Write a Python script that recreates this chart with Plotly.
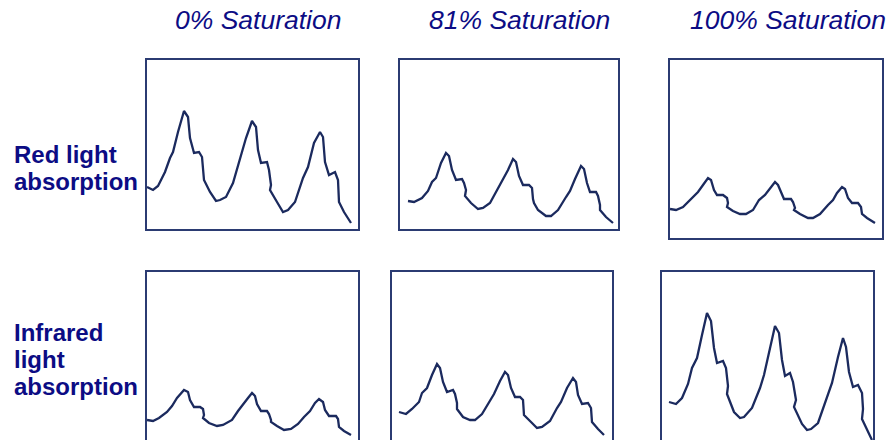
import plotly.graph_objects as go

# ---- data (time units, absorption units) ----
col_titles = ["0% Saturation", "81% Saturation", "100% Saturation"]
row_titles = [["Red light", "absorption"], ["Infrared", "light", "absorption"]]

t_red_0 = [0, 6, 11, 18, 23, 26, 31, 37, 41, 43, 47, 52, 55, 56, 57, 63, 69, 73, 79, 86, 92, 99, 105, 109, 111, 114, 120, 122, 124, 123, 130, 136, 141, 148, 156, 161, 167, 173, 176, 178, 182, 188, 191, 192, 192, 197, 204]
v_red_0 = [53, 50, 54, 68, 82, 88, 108, 129, 123, 102, 87, 88, 83, 67, 60, 48, 39, 40, 43, 57, 78, 102, 119, 113, 90, 77, 78, 70, 55, 50, 38, 28, 30, 38, 62, 73, 97, 108, 103, 78, 65, 68, 60, 45, 38, 28, 17]

t_red_81 = [8, 14, 22, 28, 32, 36, 41, 46, 49, 52, 56, 62, 64, 66, 65, 71, 78, 83, 90, 98, 102, 108, 113, 116, 119, 123, 129, 132, 133, 134, 138, 146, 151, 158, 166, 170, 175, 181, 184, 187, 190, 196, 198, 200, 200, 206, 213]
v_red_81 = [39, 38, 42, 49, 58, 62, 77, 87, 84, 70, 60, 61, 57, 50, 44, 37, 31, 32, 37, 52, 58, 70, 81, 78, 64, 55, 55, 52, 41, 37, 30, 24, 24, 30, 43, 49, 61, 74, 71, 57, 48, 48, 44, 35, 30, 23, 17]

t_red_100 = [0, 6, 13, 22, 28, 33, 38, 41, 44, 47, 53, 57, 58, 57, 63, 70, 76, 83, 89, 95, 100, 105, 108, 111, 114, 121, 123, 125, 124, 130, 138, 143, 150, 158, 163, 167, 172, 175, 178, 182, 188, 191, 192, 192, 197, 205]
v_red_100 = [31, 30, 33, 42, 48, 55, 62, 60, 50, 45, 45, 42, 37, 33, 29, 26, 26, 30, 40, 45, 52, 58, 55, 47, 41, 41, 38, 32, 30, 26, 22, 22, 26, 35, 40, 47, 53, 51, 42, 37, 37, 33, 28, 26, 22, 17]

t_ir_0 = [0, 6, 12, 20, 25, 30, 37, 41, 43, 47, 53, 56, 57, 56, 62, 70, 76, 85, 91, 96, 101, 105, 108, 110, 114, 120, 122, 124, 124, 130, 137, 144, 151, 157, 163, 168, 172, 176, 178, 182, 189, 191, 192, 192, 197, 204]
v_ir_0 = [20, 19, 22, 28, 34, 42, 50, 48, 40, 33, 33, 31, 25, 22, 17, 14, 15, 20, 29, 35, 42, 47, 44, 36, 29, 29, 26, 20, 18, 14, 10, 11, 16, 23, 29, 37, 41, 38, 30, 24, 24, 21, 16, 13, 9, 5]

t_ir_81 = [7, 14, 20, 27, 30, 35, 40, 45, 48, 51, 55, 61, 63, 65, 65, 71, 78, 83, 90, 98, 102, 108, 113, 116, 119, 123, 128, 131, 132, 132, 139, 145, 150, 158, 165, 169, 175, 181, 184, 186, 190, 196, 199, 200, 200, 206, 212]
v_ir_81 = [28, 26, 31, 38, 47, 52, 65, 76, 72, 58, 48, 50, 46, 37, 31, 23, 20, 20, 26, 40, 46, 59, 68, 65, 52, 43, 43, 40, 30, 25, 18, 12, 13, 19, 32, 38, 52, 62, 58, 45, 36, 37, 32, 22, 18, 11, 5]

t_ir_100 = [7, 14, 20, 26, 30, 35, 40, 45, 49, 52, 55, 61, 64, 66, 65, 72, 78, 82, 90, 98, 102, 108, 113, 117, 120, 123, 128, 131, 134, 132, 140, 145, 149, 156, 161, 166, 170, 176, 181, 184, 187, 191, 196, 200, 201, 200, 206, 210]
v_ir_100 = [38, 36, 42, 56, 72, 82, 105, 127, 119, 92, 77, 79, 72, 54, 46, 28, 22, 23, 32, 52, 65, 92, 114, 107, 80, 64, 67, 58, 40, 33, 16, 10, 11, 17, 31, 47, 57, 83, 102, 93, 68, 53, 55, 47, 31, 21, 8, 0]

# ---- layout (pixel geometry of each panel frame) ----
W, H = 890, 440
panels = [
    # (t, v, box left, right, top, bottom px, x range, y range, open bottom)
    (t_red_0,   v_red_0,   147, 358, 60, 229, [0, 211], [11, 180], False),
    (t_red_81,  v_red_81,  400, 618, 60, 229, [0, 218], [11, 180], False),
    (t_red_100, v_red_100, 670, 882, 60, 238, [0, 212], [2, 180], False),
    (t_ir_0,    v_ir_0,    147, 358, 272, 440, [0, 211], [0, 168], True),
    (t_ir_81,   v_ir_81,   392, 612, 272, 440, [0, 220], [0, 168], True),
    (t_ir_100,  v_ir_100,  662, 873, 272, 440, [0, 211], [0, 168], True),
]

LINE = "#1b2a5e"
FRAME = "#2b3b72"
TEXT = "#0c0c84"

fig = go.Figure()
layout = dict(
    width=W, height=H, margin=dict(l=0, r=0, t=0, b=0),
    paper_bgcolor="white", plot_bgcolor="white", showlegend=False,
)
for i, (t, v, l, r, tp, bt, xr, yr, open_bottom) in enumerate(panels, start=1):
    xa = "xaxis" if i == 1 else f"xaxis{i}"
    ya = "yaxis" if i == 1 else f"yaxis{i}"
    fig.add_trace(go.Scatter(
        x=t, y=v, mode="lines",
        line=dict(color=LINE, width=2.3),
        xaxis="x" if i == 1 else f"x{i}",
        yaxis="y" if i == 1 else f"y{i}",
        hoverinfo="skip",
    ))
    common = dict(showgrid=False, zeroline=False, showticklabels=False, ticks="",
                  showline=True, linecolor=FRAME, linewidth=2, fixedrange=True)
    layout[xa] = dict(domain=[l / W, r / W], range=xr,
                      anchor="y" if i == 1 else f"y{i}",
                      side="top" if open_bottom else "bottom",
                      mirror=not open_bottom, **common)
    layout[ya] = dict(domain=[1 - bt / H, 1 - tp / H], range=yr,
                      anchor="x" if i == 1 else f"x{i}",
                      mirror=True, **common)

annotations = []
col_centers = [258, 519, 788]
for name, cx in zip(col_titles, col_centers):
    annotations.append(dict(
        text=f"<i>{name}</i>", x=cx / W, y=1 - 20 / H, xref="paper", yref="paper",
        xanchor="center", yanchor="middle", showarrow=False,
        font=dict(family="Liberation Sans, Arial", size=26.5, color=TEXT)))

row_line_y = [[154, 181], [332, 359, 386]]
for lines, ys in zip(row_titles, row_line_y):
    for txt, yy in zip(lines, ys):
        annotations.append(dict(
            text=f"<b>{txt}</b>", x=12 / W, y=1 - yy / H, xref="paper", yref="paper",
            xanchor="left", yanchor="middle", showarrow=False,
            font=dict(family="Liberation Sans, Arial", size=24, color=TEXT)))

layout["annotations"] = annotations
fig.update_layout(**layout)
fig.write_html("out.html", config={"displayModeBar": False},
               post_script="document.body.style.margin='0';document.body.style.overflow='hidden';")
